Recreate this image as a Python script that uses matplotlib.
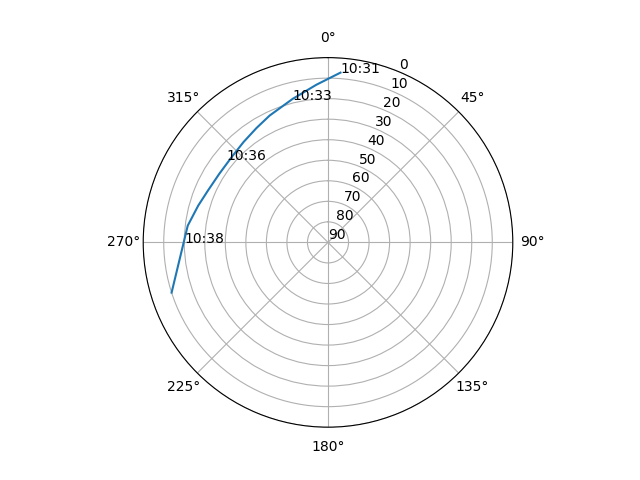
import numpy as np
import matplotlib
matplotlib.use("Agg")
import matplotlib.pyplot as plt

# Traced track (azimuth in degrees, elevation in degrees)
track_az = [4.2, 355.8, 346.2, 335.3, 328.0, 320.0, 311.8,
            302.3, 293.3, 285.8, 276.8, 252.2]
track_el = [7.1, 13.0, 18.0, 22.0, 24.3, 26.1, 27.3,
            27.4, 26.3, 24.3, 21.2, 10.0]

# Time annotations
label_times = ["10:31", "10:33", "10:36", "10:38"]
label_az = [4.3, 346.2, 309.3, 269.9]
label_el = [7.1, 18.4, 26.3, 20.1]

r_ticks = list(range(0, 91, 10))

fig = plt.figure(figsize=(6.4, 4.8), dpi=100)
ax = fig.add_subplot(111, projection="polar")
ax.set_theta_zero_location("N")
ax.set_theta_direction(-1)

ax.plot(np.radians(track_az), track_el, color="#1f77b4")

for t, a, e in zip(label_times, label_az, label_el):
    ax.text(np.radians(a), e, t)

ax.set_ylim(90, 0)
ax.set_yticks(r_ticks)
fig.savefig("out.png")
